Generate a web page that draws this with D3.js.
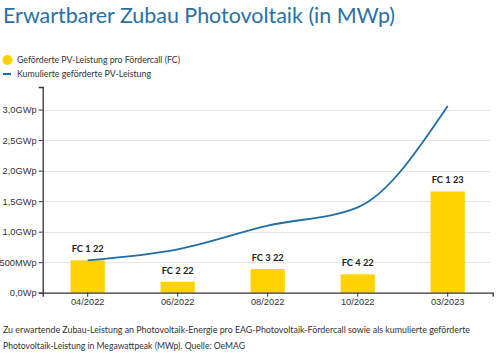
<!DOCTYPE html>
<html>
<head>
<meta charset="utf-8">
<script src="https://cdn.jsdelivr.net/npm/d3@7"></script>
<style>
  html, body { margin: 0; padding: 0; background: #fff; }
  svg { display: block; font-family: "Source Sans Pro", Lato, "Open Sans", sans-serif; }
</style>
</head>
<body>
<script>
const categories = ["04/2022", "06/2022", "08/2022", "10/2022", "03/2023"];
const barLabels = ["FC 1 22", "FC 2 22", "FC 3 22", "FC 4 22", "FC 1 23"];
const perCall = [530, 180, 388, 301, 1659];
const cumulative = [530, 710, 1098, 1399, 3058];
const yTicks = [0, 500, 1000, 1500, 2000, 2500, 3000];
const yTickLabels = ["0,0Wp", "500MWp", "1,0GWp", "1,5GWp", "2,0GWp", "2,5GWp", "3,0GWp"];

const W = 500, H = 357;
const svg = d3.select("body").append("svg").attr("width", W).attr("height", H);

const barColor = "#ffd200";
const lineColor = "#1f6ea6";

// Title
svg.append("text").attr("x", 3).attr("y", 23)
  .attr("font-size", 22).attr("fill", "#2a70a3")
  .attr("textLength", 392).attr("lengthAdjust", "spacingAndGlyphs")
  .text("Erwartbarer Zubau Photovoltaik (in MWp)");

// Legend
svg.append("circle").attr("cx", 7.5).attr("cy", 60).attr("r", 5).attr("fill", barColor);
svg.append("text").attr("x", 17).attr("y", 63.3).attr("font-size", 9.6).attr("fill", "#333")
  .attr("textLength", 163).attr("lengthAdjust", "spacingAndGlyphs")
  .text("Geförderte PV-Leistung pro Fördercall (FC)");
svg.append("line").attr("x1", 3).attr("x2", 11).attr("y1", 74).attr("y2", 74)
  .attr("stroke", lineColor).attr("stroke-width", 2);
svg.append("text").attr("x", 17).attr("y", 77.3).attr("font-size", 9.6).attr("fill", "#333")
  .attr("textLength", 134).attr("lengthAdjust", "spacingAndGlyphs")
  .text("Kumulierte geförderte PV-Leistung");

const x0 = 42.7, x1 = 492.7, yBottom = 292.7, yTop = 87;
const x = d3.scaleBand().domain(categories).range([x0, x1]).paddingInner(0.62).paddingOuter(0.31);
const y = d3.scaleLinear().domain([0, 3370]).range([yBottom, yTop]);

// Grid
svg.append("g").selectAll("line").data(yTicks.slice(1)).join("line")
  .attr("x1", x0).attr("x2", x1 - 2)
  .attr("y1", d => Math.round(y(d)) + 0.5).attr("y2", d => Math.round(y(d)) + 0.5)
  .attr("stroke", "#e6e6e6").attr("stroke-width", 1);

// Bars
svg.append("g").selectAll("rect").data(perCall).join("rect")
  .attr("x", (d, i) => x(categories[i]))
  .attr("width", x.bandwidth())
  .attr("y", d => y(d))
  .attr("height", d => yBottom - y(d))
  .attr("fill", barColor);

// Bar labels
svg.append("g").selectAll("text").data(perCall).join("text")
  .attr("x", (d, i) => x(categories[i]) + x.bandwidth() / 2)
  .attr("y", d => y(d) - 8)
  .attr("text-anchor", "middle").attr("font-size", 9.3).attr("font-weight", "bold").attr("fill", "#222")
  .text((d, i) => barLabels[i]);

// Line
const line = d3.line()
  .x((d, i) => x(categories[i]) + x.bandwidth() / 2)
  .y(d => y(d))
  .curve(d3.curveMonotoneX);
svg.append("path").datum(cumulative).attr("d", line)
  .attr("fill", "none").attr("stroke", lineColor).attr("stroke-width", 1.8);

// Axes
const yAxis = d3.axisLeft(y).tickValues(yTicks)
  .tickFormat((d, i) => yTickLabels[i]).tickSize(4).tickSizeOuter(4).tickPadding(2);
const gy = svg.append("g").attr("transform", `translate(${x0},0)`).call(yAxis);
gy.select(".domain").attr("stroke", "#333").attr("stroke-width", 1.3);
gy.selectAll(".tick line").attr("stroke", "#333");
gy.selectAll(".tick text").attr("font-size", 9.3).attr("fill", "#333").attr("font-family", null);

const xAxis = d3.axisBottom(x).tickSize(4).tickSizeOuter(4).tickPadding(2);
const gx = svg.append("g").attr("transform", `translate(0,${yBottom})`).call(xAxis);
gx.select(".domain").attr("stroke", "#333").attr("stroke-width", 1.3);
gx.selectAll(".tick line").attr("stroke", "#333");
gx.selectAll(".tick text").attr("font-size", 9.3).attr("fill", "#333").attr("font-family", null);

// Caption
const cap = svg.append("text").attr("x", 3).attr("font-size", 9.1).attr("fill", "#333");
cap.append("tspan").attr("x", 3).attr("y", 333)
  .attr("textLength", 467).attr("lengthAdjust", "spacingAndGlyphs")
  .text("Zu erwartende Zubau-Leistung an Photovoltaik-Energie pro EAG-Photovoltaik-Fördercall sowie als kumulierte geförderte");
cap.append("tspan").attr("x", 3).attr("y", 349)
  .attr("textLength", 242).attr("lengthAdjust", "spacingAndGlyphs")
  .text("Photovoltaik-Leistung in Megawattpeak (MWp). Quelle: OeMAG");
</script>
</body>
</html>
